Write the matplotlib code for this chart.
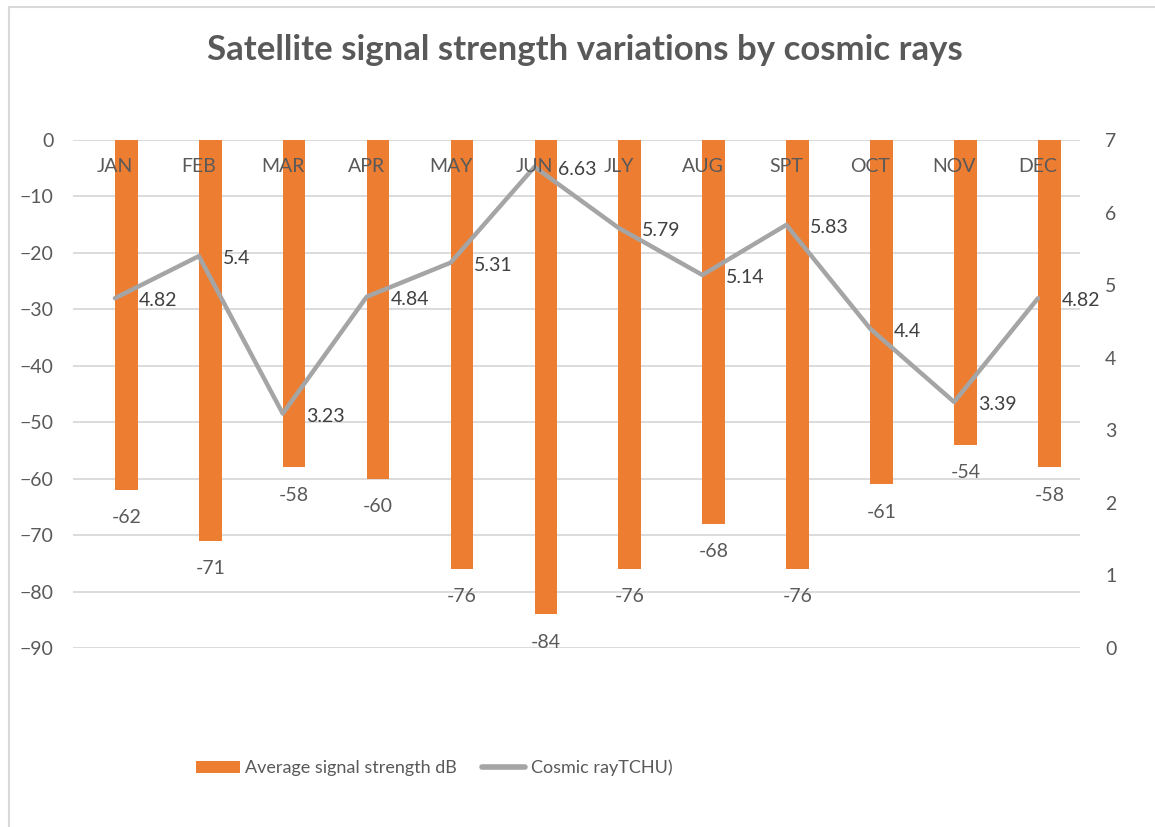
import matplotlib.pyplot as plt
from matplotlib.patches import Rectangle
import numpy as np

plt.rcParams['font.family'] = ['Lato', 'DejaVu Sans']

months = ['JAN', 'FEB', 'MAR', 'APR', 'MAY', 'JUN', 'JLY', 'AUG', 'SPT', 'OCT', 'NOV', 'DEC']
signal_db = [-62, -71, -58, -60, -76, -84, -76, -68, -76, -61, -54, -58]
cosmic = [4.82, 5.4, 3.23, 4.84, 5.31, 6.63, 5.79, 5.14, 5.83, 4.4, 3.39, 4.82]

txt = '#595959'
grid = '#D9D9D9'
orange = '#ED7D31'
gray = '#A5A5A5'

W, H = 1155, 827
fig = plt.figure(figsize=(W / 100, H / 100), dpi=100)
# plot area in pixels: x 73..1080, y 140..648
ax = fig.add_axes([73 / W, 1 - 648 / H, (1080 - 73) / W, (648 - 140) / H])
ax2 = ax.twinx()

x = np.arange(len(months))
bars = ax.bar(x, signal_db, width=0.27, align='edge', color=orange, zorder=2)
ax.set_xlim(-0.5, len(months) - 0.5)
ax.set_ylim(-90, 0)
ax.set_yticks(np.arange(-90, 1, 10))
ax.yaxis.grid(True, color=grid, lw=1.3)
ax.set_axisbelow(True)

for s in ax.spines.values():
    s.set_visible(False)
for s in ax2.spines.values():
    s.set_visible(False)
ax.set_xticks([])
ax.tick_params(axis='y', length=0, pad=14, labelsize=14, labelcolor=txt)

# category labels sit just under the zero line, in front of the bars
for xi, m in zip(x, months):
    ax2.annotate(m, (xi, 7), xytext=(0, -13), textcoords='offset points',
                 ha='center', va='top', fontsize=14, color=txt, zorder=5)

for xi, v in zip(x, signal_db):
    ax.annotate(str(v), (xi + 0.135, v), xytext=(0, -14), textcoords='offset points',
                ha='center', va='top', fontsize=14, color=txt)

ax2.plot(x, cosmic, color=gray, lw=3.2, solid_capstyle='round', zorder=3)
ax2.set_ylim(0, 7)
ax2.set_yticks(np.arange(0, 8, 1))
ax2.tick_params(axis='y', length=0, pad=18, labelsize=14, labelcolor=txt)
for xi, v in zip(x, cosmic):
    ax2.annotate(f'{v:g}', (xi, v), xytext=(17, -2), textcoords='offset points',
                 ha='left', va='center', fontsize=14, color='#404040')

fig.text(585 / W, 1 - 50 / H, 'Satellite signal strength variations by cosmic rays',
         ha='center', va='center', fontsize=25, fontweight='bold', color=txt)

line_h = ax2.lines[0]
leg = fig.legend([bars[0], line_h], ['Average signal strength dB', 'Cosmic rayTCHU)'],
                 loc='center left', bbox_to_anchor=(180 / W, 1 - 768 / H), ncol=2,
                 frameon=False, fontsize=13, labelcolor=txt, handlelength=2.4,
                 columnspacing=1.4, handletextpad=0.3)
leg.get_lines()[0].set_linewidth(4)

fig.patches.append(Rectangle((8.5 / W, -0.1), 1.2, 1 - 6.5 / H + 0.1, transform=fig.transFigure,
                             fill=False, edgecolor=grid, lw=1.5, zorder=0))

fig.savefig('out.png', dpi=100, facecolor='white')
